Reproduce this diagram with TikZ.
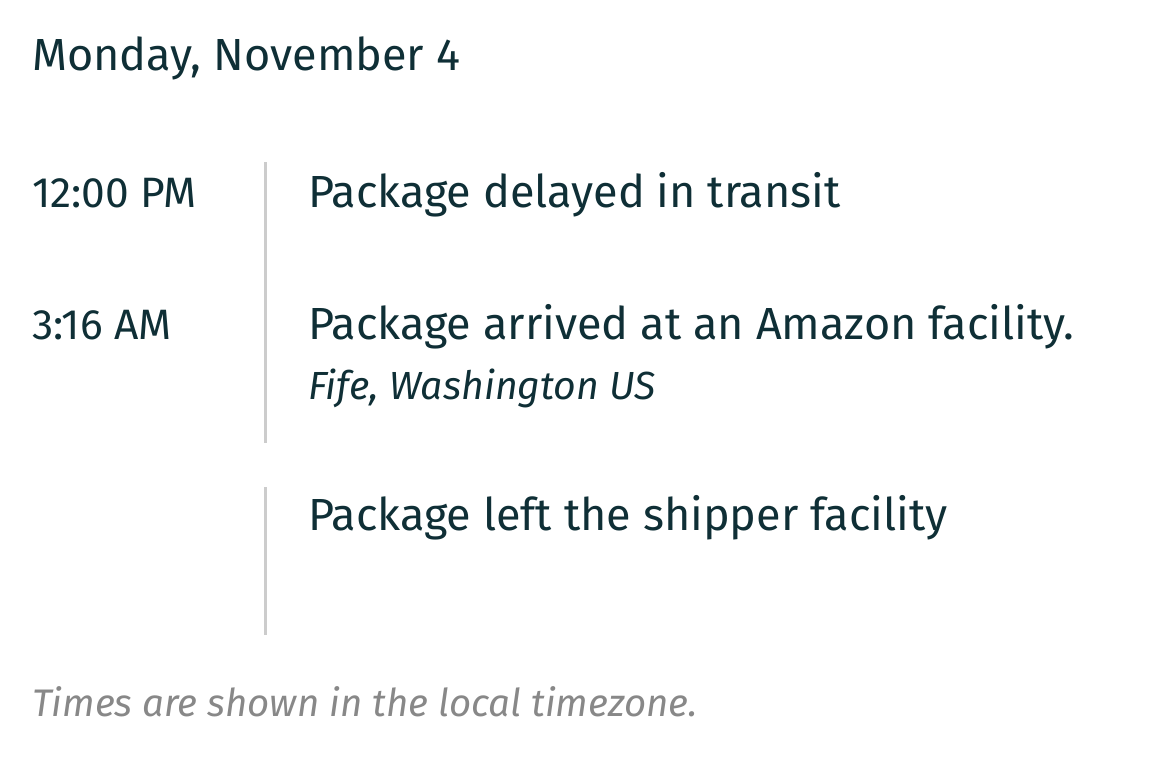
\documentclass[tikz,border=0pt]{standalone}
\usepackage{fontspec}
\setmainfont{Fira Sans}
\definecolor{ink}{HTML}{0F2F36}
\definecolor{note}{HTML}{888888}
\definecolor{rule}{HTML}{CCCCCC}
\tikzset{
  lbl/.style={anchor=base west, inner sep=0pt, text=ink},
  datefont/.style={font=\fontsize{45}{52}\selectfont},
  timefont/.style={font=\fontsize{42.5}{48}\selectfont},
  evfont/.style={font=\fontsize{45}{52}\selectfont},
  locfont/.style={font=\fontsize{39.2}{46}\selectfont\itshape},
  notefont/.style={font=\fontsize{38.4}{46}\selectfont\itshape, text=note},
  bar/.style={draw=rule, line width=3pt}
}
\begin{document}
\begin{tikzpicture}[x=1pt,y=-1pt]
\useasboundingbox[fill=white] (0,0) rectangle (1170,756);
\node[lbl,datefont] (date) at (32,70) {Monday, November 4};
\node[lbl,timefont] (t1) at (32,207) {12:00 PM};
\node[lbl,evfont] (e1) at (308,207) {Package delayed in transit};
\node[lbl,timefont] (t2) at (32,339) {3:16 AM};
\node[lbl,evfont] (e2) at (308,339) {Package arrived at an Amazon facility.};
\node[lbl,locfont] (l2) at (308,399) {Fife, Washington US};
\node[lbl,evfont] (e3) at (308,530) {Package left the shipper facility};
\node[lbl,notefont] (n) at (32,716) {Times are shown in the local timezone.};
\coordinate (b1t) at (265,162);
\coordinate (b1b) at (265,443);
\coordinate (b2t) at (265,487);
\coordinate (b2b) at (265,635);
\draw[bar] (b1t) -- (b1b);
\draw[bar] (b2t) -- (b2b);
\end{tikzpicture}
\end{document}
